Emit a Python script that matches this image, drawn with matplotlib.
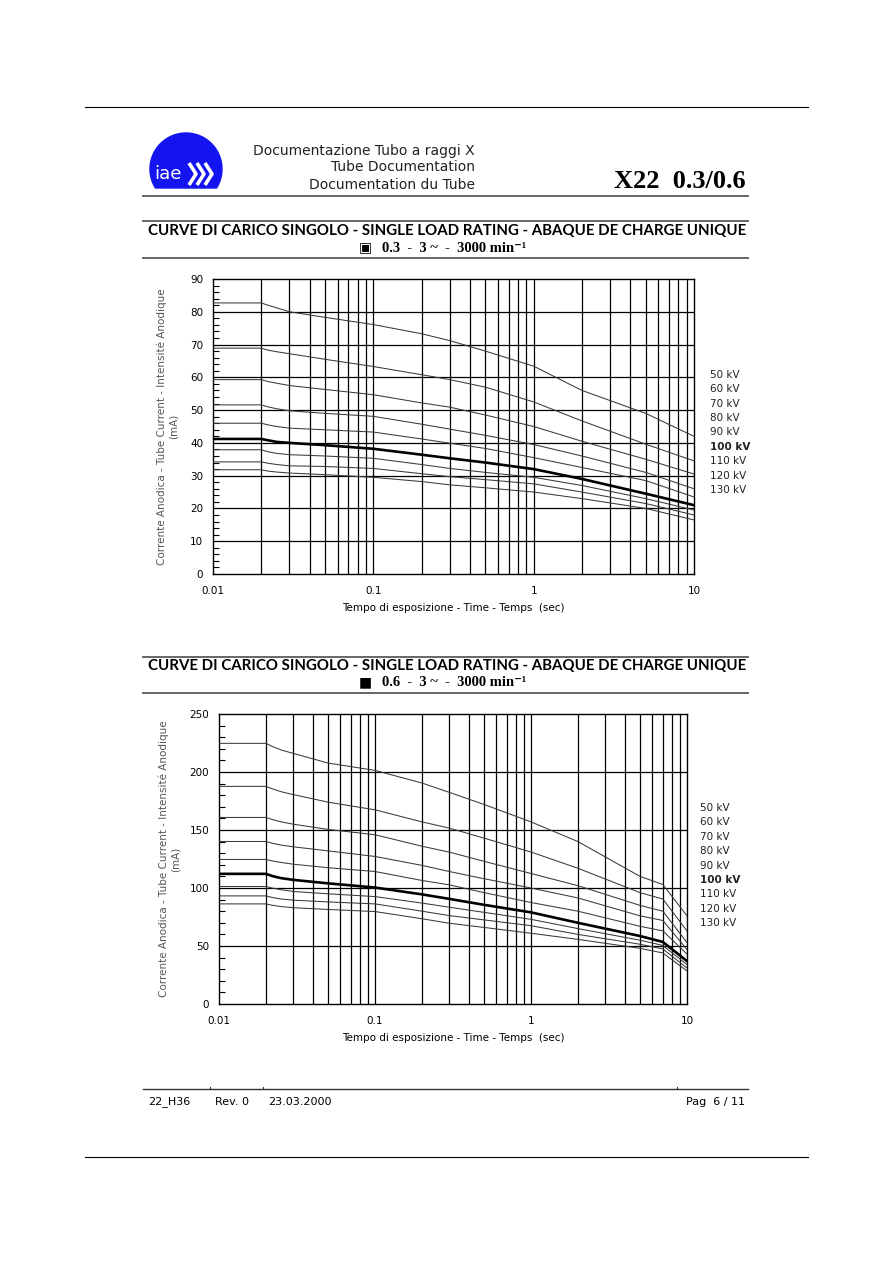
import numpy as np
import matplotlib.pyplot as plt
from matplotlib.patches import Polygon
from matplotlib.ticker import FixedLocator, MultipleLocator, NullFormatter

# exposure times (s)
t1 = [0.01, 0.02, 0.022, 0.025, 0.03, 0.05, 0.1, 0.2, 0.3, 0.5, 1, 2, 5, 10]
t2 = [0.01, 0.02, 0.022, 0.025, 0.03, 0.05, 0.1, 0.2, 0.3, 0.5, 1, 2, 5, 7, 10]

kv_labels = ['50 kV', '60 kV', '70 kV', '80 kV', '90 kV',
             '100 kV', '110 kV', '120 kV', '130 kV']

# focus 0.3 - tube current (mA)
f03_50 = [82.7, 82.7, 82.0, 81.2, 80.0, 78.3, 76.1, 73.3, 71.2, 68.0, 63.4, 56.0, 49.0, 42.0]
f03_60 = [68.9, 68.9, 68.3, 67.8, 67.2, 65.5, 63.3, 60.8, 59.3, 57.0, 52.5, 46.7, 39.6, 34.5]
f03_70 = [59.3, 59.3, 58.7, 58.2, 57.5, 56.3, 54.7, 52.2, 50.9, 48.5, 45.0, 40.5, 35.0, 30.5]
f03_80 = [51.6, 51.6, 51.0, 50.4, 49.8, 49.0, 48.1, 45.7, 44.2, 42.3, 39.5, 36.0, 31.0, 26.0]
f03_90 = [46.0, 46.0, 45.5, 45.0, 44.5, 44.0, 43.3, 41.2, 39.9, 38.3, 35.5, 32.5, 28.5, 23.5]
f03_100 = [41.2, 41.2, 40.8, 40.3, 40.0, 39.3, 38.2, 36.4, 35.3, 34.0, 32.0, 29.0, 24.5, 21.0]
f03_110 = [37.9, 37.9, 37.3, 36.8, 36.4, 36.0, 35.3, 33.4, 32.2, 31.0, 29.5, 27.0, 23.0, 19.5]
f03_120 = [34.2, 34.2, 33.8, 33.4, 33.0, 32.8, 32.2, 30.6, 29.7, 28.8, 27.5, 25.0, 21.5, 18.0]
f03_130 = [31.8, 31.8, 31.4, 31.1, 30.8, 30.3, 29.5, 28.2, 27.2, 26.3, 25.0, 23.0, 20.0, 16.5]

# focus 0.6 - tube current (mA)
f06_50 = [224.7, 224.7, 222, 219, 216, 207.7, 201.4, 190.5, 182.4, 172, 157, 140, 110, 103, 76]
f06_60 = [187.6, 187.6, 185.5, 183, 180.5, 174, 167.4, 157, 151.6, 143, 131, 117, 96, 90.5, 63]
f06_70 = [160.8, 160.8, 159, 157, 155, 150.5, 145.9, 136, 130.9, 123, 112.5, 102, 85, 80, 53]
f06_80 = [140.1, 140.1, 138.5, 137, 135.5, 132, 127.2, 119.5, 114.2, 108, 100, 91.4, 76, 72, 47]
f06_90 = [124.6, 124.6, 123.3, 122, 120.5, 117.5, 114.2, 106.5, 102.7, 96, 87.5, 80, 67, 63, 43]
f06_100 = [112.2, 112.2, 110.3, 108.5, 107, 104, 100.4, 94.5, 90.6, 85.5, 79, 70, 58.6, 53.5, 37]
f06_110 = [101.3, 101.3, 99.9, 98.5, 97, 95, 92.6, 87, 83.4, 79, 73, 65, 55, 50.5, 34]
f06_120 = [93.2, 93.2, 91.8, 90.5, 89.5, 88, 86.3, 80, 76.2, 72.5, 67.5, 60, 51.5, 47.5, 31]
f06_130 = [86.3, 86.3, 85.1, 84, 83, 81.5, 79.7, 73.5, 69.6, 66, 61, 55.7, 48, 44, 28.5]

curves1 = [f03_50, f03_60, f03_70, f03_80, f03_90, f03_100, f03_110, f03_120, f03_130]
curves2 = [f06_50, f06_60, f06_70, f06_80, f06_90, f06_100, f06_110, f06_120, f06_130]

W, H = 893, 1263
fig = plt.figure(figsize=(W/100, H/100), dpi=100)
fig.patch.set_facecolor('white')

# page decorations in pixel coords
bg = fig.add_axes([0, 0, 1, 1])
bg.set_xlim(0, W)
bg.set_ylim(H, 0)
bg.axis('off')

bg.plot([85, 808], [107, 107], color='black', lw=0.8)
bg.plot([85, 808], [1157, 1157], color='black', lw=0.8)
for yy in [196, 221, 258, 657, 693]:
    bg.plot([143, 748], [yy, yy], color='#666666', lw=1.4)
bg.plot([143, 748], [1089, 1089], color='#333333', lw=1.0)
for xx in [210, 263, 677]:
    bg.plot([xx, xx], [1087, 1089], color='#333333', lw=0.8)

# logo
th = np.linspace(0, 2*np.pi, 200)
cx, cy, r = 186, 169, 36
px = cx + r*np.cos(th)
py = np.minimum(cy + r*np.sin(th), 188)
bg.add_patch(Polygon(np.column_stack([px, py]), closed=True, color='#1414f0'))
bg.text(168, 174, 'iae', color='white', fontsize=13, ha='center', va='center',
        family='DejaVu Sans')
for k in range(3):
    x0 = 189 + k*8
    bg.plot([x0, x0 + 7, x0], [163, 174, 185], color='white', lw=2.6,
            solid_capstyle='butt')

hf = 'DejaVu Sans'
for txt, yy in [('Documentazione Tubo a raggi X', 151),
                ('Tube Documentation', 167),
                ('Documentation du Tube', 185)]:
    bg.text(475, yy, txt, ha='right', va='center', fontsize=10, family=hf,
            color='#222222')
bg.text(746, 181, 'X22  0.3/0.6', ha='right', va='center', fontsize=19,
        fontweight='bold', family='Liberation Serif')

title = 'CURVE DI CARICO SINGOLO - SINGLE LOAD RATING - ABAQUE DE CHARGE UNIQUE'
for yy, sym, sub in [(231, '\u25A3', '0.3  -  3 ~  -  3000 min\u207B\u00B9'),
                     (666, '\u25A0', '0.6  -  3 ~  -  3000 min\u207B\u00B9')]:
    bg.text(447, yy, title, ha='center', va='center', fontsize=10.8,
            fontweight='bold', family='Lato')
    bg.text(372, yy + 16, sym, ha='right', va='center', fontsize=10,
            family='DejaVu Sans')
    bg.text(382, yy + 17, sub, ha='left', va='center', fontsize=10.5,
            fontweight='bold', family=['Liberation Serif', 'DejaVu Sans'])

bg.text(148, 1102, '22_H36', ha='left', va='center', fontsize=8, family=hf)
bg.text(215, 1102, 'Rev. 0', ha='left', va='center', fontsize=8, family=hf)
bg.text(268, 1102, '23.03.2000', ha='left', va='center', fontsize=8, family=hf)
bg.text(745, 1102, 'Pag  6 / 11', ha='right', va='center', fontsize=8, family=hf)


def make_chart(box, t, curves, ymax, ymajor, yminor, ylab_x, lab_x, lab_y0, lab_y1):
    l, top, r_, b = box
    ax = fig.add_axes([l/W, 1 - b/H, (r_ - l)/W, (b - top)/H])
    ax.set_xscale('log')
    ax.set_xlim(0.01, 10)
    ax.set_ylim(0, ymax)
    vlines = [m*10.0**e for e in (-2, -1, 0) for m in range(2, 10)] + [0.1, 1]
    for v in vlines:
        ax.axvline(v, color='black', lw=0.9, zorder=1)
    for yv in np.arange(ymajor, ymax, ymajor):
        ax.axhline(yv, color='black', lw=0.9, zorder=1)
    for i, c in enumerate(curves):
        bold = kv_labels[i] == '100 kV'
        ax.plot(t, c, color='black' if bold else '#3a3a3a',
                lw=1.9 if bold else 0.75, zorder=3)
    ax.xaxis.set_major_locator(FixedLocator([0.01, 0.1, 1, 10]))
    ax.set_xticklabels(['0.01', '0.1', '1', '10'])
    ax.xaxis.set_minor_formatter(NullFormatter())
    ax.xaxis.set_minor_locator(FixedLocator([]))
    ax.yaxis.set_major_locator(MultipleLocator(ymajor))
    ax.yaxis.set_minor_locator(MultipleLocator(yminor))
    ax.tick_params(axis='x', which='both', length=0, pad=9, labelsize=7.5)
    ax.tick_params(axis='y', which='major', length=0, pad=7, labelsize=7.5)
    ax.tick_params(axis='y', which='minor', direction='in', length=4, width=0.8)
    for s in ax.spines.values():
        s.set_linewidth(1.0)
    ax.set_xlabel('Tempo di esposizione - Time - Temps  (sec)', fontsize=7.5,
                  labelpad=5)
    ax.text(ylab_x, 0.5, 'Corrente Anodica - Tube Current - Intensité Anodique\n(mA)',
            transform=ax.transAxes, rotation=90, ha='center', va='center',
            multialignment='center', fontsize=7.5, color='#555555')
    ys = np.linspace(lab_y0, lab_y1, len(kv_labels))
    for lab, yy in zip(kv_labels, ys):
        ax.text(lab_x, yy, lab, transform=ax.transAxes, ha='left', va='center',
                fontsize=7.5, fontweight='bold' if lab == '100 kV' else 'normal',
                color='#222222')
    return ax


make_chart((213, 279, 694, 574), t1, curves1, 90, 10, 2,
           -0.095, 1.033, 0.675, 0.285)
make_chart((219, 714, 687, 1004), t2, curves2, 250, 50, 10,
           -0.105, 1.028, 0.676, 0.279)

plt.savefig('out.png', dpi=100)
